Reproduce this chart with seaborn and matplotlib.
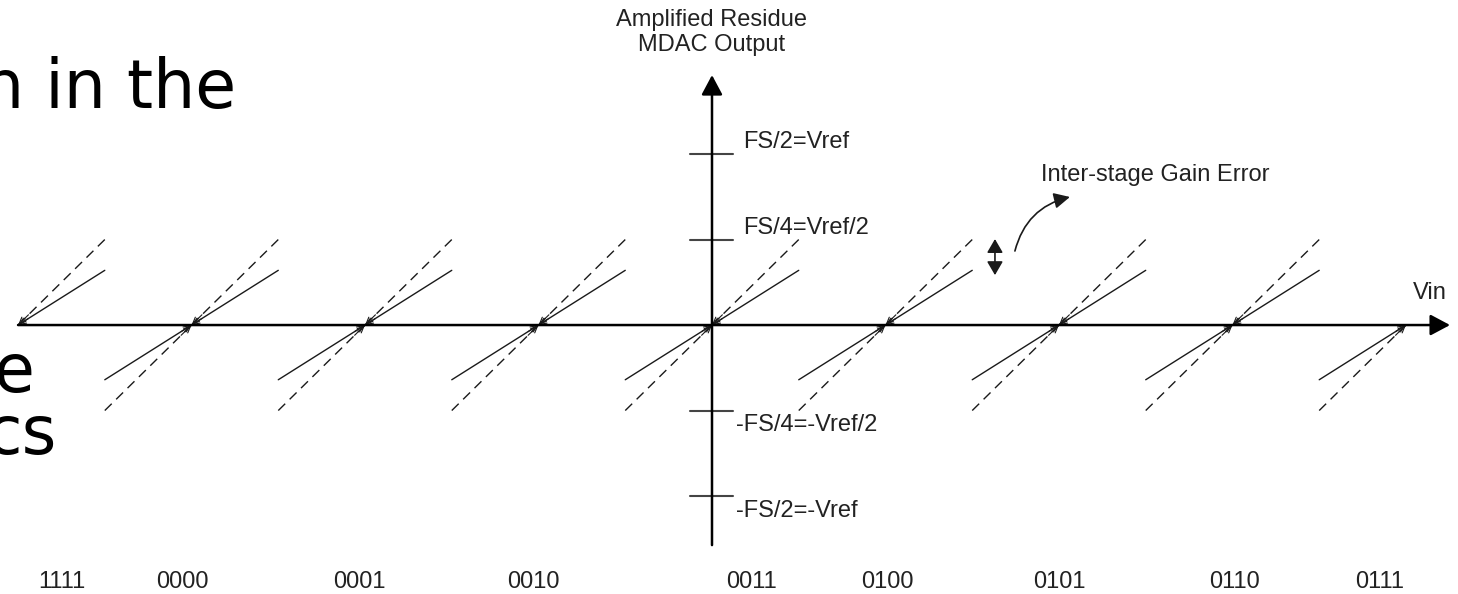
import matplotlib
matplotlib.use("Agg")
import matplotlib.pyplot as plt
import numpy as np
import pandas as pd
import seaborn as sns

# Output codes of the 4-bit stage and where their labels sit along Vin
codes = ["1111", "0000", "0001", "0010", "0011", "0100", "0101", "0110", "0111"]
code_pos = [-3.75, -3.05, -2.03, -1.03, 0.23, 1.01, 2.0, 3.01, 3.85]

# Zero crossings of the residue transfer curve (in units of one code width)
crossings = [-4, -3, -2, -1, 0, 1, 2, 3, 4]
half_width = 0.5            # each code spans +/- half a code around its crossing
ideal_peak = 0.5            # ideal residue swing: +/- FS/4 = Vref/2
actual_peak = 0.32          # residue swing with inter-stage gain error

# Reference levels on the output axis (units of Vref)
level_vals = [1.0, 0.5, -0.5, -1.0]
level_text = ["FS/2=Vref", "FS/4=Vref/2", "-FS/4=-Vref/2", "-FS/2=-Vref"]

sns.set_theme(style="white")
plt.rcParams["font.family"] = ["Liberation Sans", "DejaVu Sans"]

# Assemble the sawtooth pieces (lower half ends at the crossing, upper half starts there)
rows = []
piece = 0
for kind, peak in (("ideal", ideal_peak), ("actual", actual_peak)):
    for c in crossings:
        if c > crossings[0]:
            rows += [(piece, kind, c - half_width, -peak), (piece, kind, c, 0.0)]
            piece += 1
        if c < crossings[-1]:
            rows += [(piece, kind, c + half_width, peak), (piece, kind, c, 0.0)]
            piece += 1
df = pd.DataFrame(rows, columns=["piece", "kind", "x", "y"])

fig = plt.figure(figsize=(14.58, 5.94), dpi=100)
ax = fig.add_axes([0, 0, 1, 1])
ax.set_xlim(-4.104, 4.300)
ax.set_ylim(-1.573, 1.901)
ax.axis("off")

ink = "#1a1a1a"
sns.lineplot(data=df, x="x", y="y", units="piece", estimator=None, sort=False,
             style="kind", dashes={"ideal": (7, 4.5), "actual": ""},
             color=ink, linewidth=1.0, legend=False, ax=ax)

# Small arrowheads where each piece meets the Vin axis
for p, g in df.groupby("piece"):
    x0, y0 = g["x"].iloc[0], g["y"].iloc[0]
    x1, y1 = g["x"].iloc[1], g["y"].iloc[1]
    t = 0.12
    ax.annotate("", xy=(x1, y1), xytext=(x1 + (x0 - x1) * t, y1 + (y0 - y1) * t),
                arrowprops=dict(arrowstyle="->,head_length=0.35,head_width=0.15",
                                lw=0.8, color=ink, shrinkA=0, shrinkB=0,
                                mutation_scale=14))

# Axes with filled arrowheads
axis_style = dict(arrowstyle="-|>,head_length=0.6,head_width=0.32", lw=1.8,
                  color="black", shrinkA=0, shrinkB=0, mutation_scale=20)
ax.annotate("", xy=(4.254, 0), xytext=(-4.0, 0), arrowprops=axis_style)
ax.annotate("", xy=(0, 1.462), xytext=(0, -1.287), arrowprops=axis_style)

txt = dict(fontsize=17, color="#222222")

# Reference level ticks and their labels
for v, s in zip(level_vals, level_text):
    ax.plot([-0.127, 0.121], [v, v], color="#444444", lw=1.5)
    dx = 0.179 if v > 0 else 0.138
    dy = 0.07 if v > 0 else -0.085
    ax.text(dx, v + dy, s, ha="left", va="center", **txt)

ax.text(0.0, 1.711, "Amplified Residue\nMDAC Output", ha="center", va="center",
        linespacing=1.15, **txt)
ax.text(4.04, 0.187, "Vin", ha="left", va="center", **txt)
ax.text(1.896, 0.877, "Inter-stage Gain Error", ha="left", va="center", **txt)

# Gain-error marker and pointer
ax.annotate("", xy=(1.631, 0.503), xytext=(1.631, 0.292),
            arrowprops=dict(arrowstyle="<|-|>,head_length=0.55,head_width=0.32",
                            lw=1.2, color=ink, shrinkA=0, shrinkB=0, mutation_scale=15))
ax.annotate("", xy=(2.063, 0.749), xytext=(1.746, 0.433),
            arrowprops=dict(arrowstyle="-|>,head_length=0.6,head_width=0.3",
                            lw=1.2, color=ink, shrinkA=0, shrinkB=0, mutation_scale=16,
                            connectionstyle="arc3,rad=-0.3"))

# Code labels below the plot
for c, xp in zip(codes, code_pos):
    ax.text(xp, -1.503, c, ha="center", va="center", **txt)

# Slide body text running in from the left edge
body = dict(fontsize=48, color="black", family=["DejaVu Sans"], ha="right",
            va="baseline")
fig.text(236 / 1458, 1 - 108 / 594, "n in the", **body)
fig.text(34 / 1458, 1 - 392 / 594, "e", **body)
fig.text(57 / 1458, 1 - 454 / 594, "cs", **body)

fig.savefig("out.png", dpi=100)
